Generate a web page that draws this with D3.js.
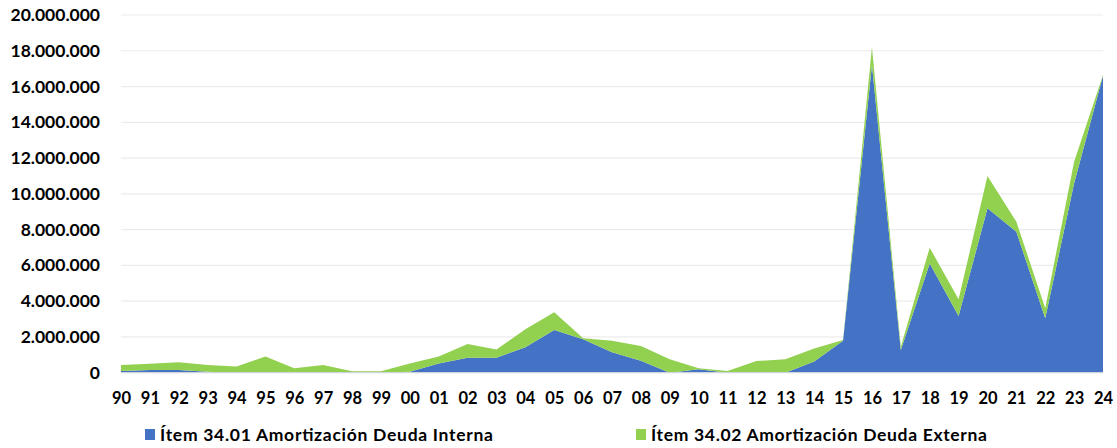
<!DOCTYPE html>
<html>
<head>
<meta charset="utf-8">
<script src="https://cdn.jsdelivr.net/npm/d3@7"></script>
<style>
  html, body { margin: 0; padding: 0; background: #ffffff; }
  svg { display: block; }
  text { font-family: Lato, "Open Sans", sans-serif; font-weight: bold; fill: #000; }
</style>
</head>
<body>
<svg id="chart" width="1117" height="448"></svg>
<script>
const categories = ["90","91","92","93","94","95","96","97","98","99","00","01","02","03","04","05","06","07","08","09","10","11","12","13","14","15","16","17","18","19","20","21","22","23","24"];
const deudaInterna = [100000,150000,150000,50000,0,0,0,0,0,0,50000,520000,840000,840000,1420000,2390000,1870000,1140000,670000,0,190000,0,0,0,620000,1790000,17200000,1270000,6110000,3170000,9190000,7880000,3040000,10590000,16600000];
const deudaExterna = [330000,350000,430000,380000,340000,900000,250000,430000,80000,80000,470000,380000,760000,460000,1010000,990000,50000,650000,820000,750000,60000,100000,650000,750000,740000,40000,1000000,180000,880000,930000,1810000,560000,560000,1200000,50000];
const yTicks = [0,2000000,4000000,6000000,8000000,10000000,12000000,14000000,16000000,18000000,20000000];
const seriesNames = ["Ítem 34.01 Amortización Deuda Interna","Ítem 34.02 Amortización Deuda Externa"];
const seriesColors = ["#4472C4","#92D050"];

const svg = d3.select("#chart");
const plotLeft = 121, plotRight = 1103, plotTop = 15, plotBottom = 372.7;

const x = d3.scalePoint().domain(categories).range([plotLeft, plotRight]);
const y = d3.scaleLinear().domain([0, 20000000]).range([plotBottom, plotTop]);

const locale = d3.formatLocale({decimal: ",", thousands: ".", grouping: [3], currency: ["$",""]});
const fmt = locale.format(",d");

// gridlines
svg.append("g").selectAll("line").data(yTicks.filter(d => d > 0)).join("line")
  .attr("x1", plotLeft).attr("x2", plotRight)
  .attr("y1", d => y(d)).attr("y2", d => y(d))
  .attr("stroke", "#ECECEC").attr("stroke-width", 1.2);

// stacked areas
const rows = categories.map((c, i) => ({cat: c, a: deudaInterna[i], b: deudaExterna[i]}));
const stacked = d3.stack().keys(["a","b"])(rows);
const area = d3.area()
  .x(d => x(d.data.cat))
  .y0(d => y(d[0]))
  .y1(d => y(d[1]));
svg.append("g").selectAll("path").data(stacked).join("path")
  .attr("d", area)
  .attr("fill", (d, i) => seriesColors[i]);

// x axis line
svg.append("line").attr("x1", plotLeft).attr("x2", plotRight)
  .attr("y1", plotBottom).attr("y2", plotBottom)
  .attr("stroke", "#D0D4DC").attr("stroke-width", 1.3);

// y labels
const yAxis = d3.axisLeft(y).tickValues(yTicks).tickFormat(fmt).tickSize(0).tickPadding(0);
const gy = svg.append("g").attr("transform", "translate(100,0)").call(yAxis);
gy.select(".domain").remove();
gy.selectAll("text").attr("font-size", 17.5).attr("font-family", "Lato, sans-serif").attr("font-weight", "bold").attr("fill", "#000");

// x labels
const xAxis = d3.axisBottom(x).tickSize(0).tickPadding(0);
const gx = svg.append("g").attr("transform", "translate(0,392)").call(xAxis);
gx.select(".domain").remove();
gx.selectAll("text").attr("font-size", 16.5).attr("font-family", "Lato, sans-serif").attr("font-weight", "bold").attr("fill", "#000");

// legend
const legendX = [145, 636];
const legendW = [333, 336];
const lg = svg.append("g").selectAll("g").data(seriesNames).join("g")
  .attr("transform", (d, i) => `translate(${legendX[i]},429)`);
lg.append("rect").attr("width", 10).attr("height", 11).attr("y", 0)
  .attr("fill", (d, i) => seriesColors[i]);
lg.append("text").attr("x", 15).attr("y", 12).attr("font-size", 17.5)
  .attr("textLength", (d, i) => legendW[i]).attr("lengthAdjust", "spacing")
  .text(d => d);
</script>
</body>
</html>
